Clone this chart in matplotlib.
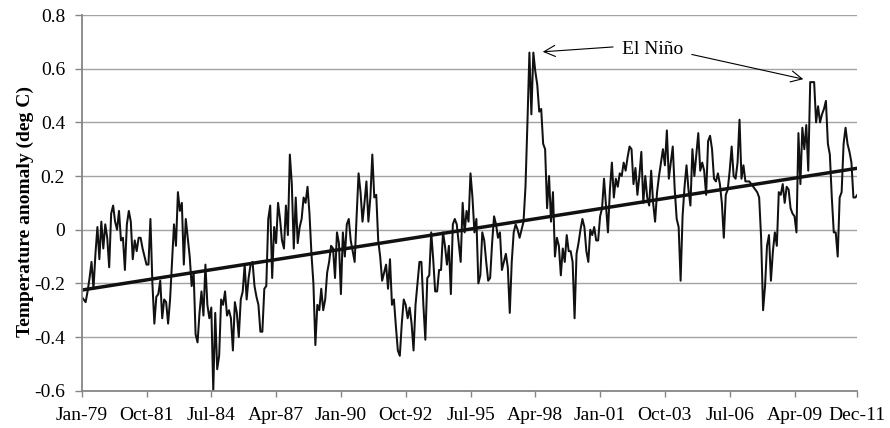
#!/usr/bin/env python
"""plot.py: monthly temperature anomaly 1979-2011 with linear trend"""

import numpy as np
import matplotlib
matplotlib.use("Agg")
import matplotlib.pyplot as plt

# monthly anomalies (deg C), Jan-79 .. Dec-11, one row per year
anom_1979_1986 = [
    -0.25, -0.26, -0.27, -0.23, -0.18, -0.12, -0.22, -0.09, 0.01, -0.11, 0.03, -0.07,
    0.02, -0.03, -0.14, 0.06, 0.09, 0.03, 0.00, 0.07, -0.04, -0.03, -0.15, 0.02,
    0.07, 0.03, -0.11, -0.04, -0.08, -0.03, -0.03, -0.07, -0.10, -0.13, -0.13, 0.04,
    -0.20, -0.35, -0.25, -0.24, -0.19, -0.33, -0.26, -0.27, -0.35, -0.26, -0.12, 0.02,
    -0.06, 0.14, 0.07, 0.10, -0.13, 0.04, -0.03, -0.10, -0.21, -0.16, -0.39, -0.42,
    -0.31, -0.23, -0.32, -0.13, -0.28, -0.33, -0.29, -0.60, -0.31, -0.52, -0.47, -0.26,
    -0.28, -0.23, -0.32, -0.30, -0.33, -0.45, -0.27, -0.31, -0.40, -0.26, -0.23, -0.13,
    -0.26, -0.18, -0.13, -0.12, -0.21, -0.25, -0.28, -0.38, -0.38, -0.22, -0.21, 0.04,
]
anom_1987_1994 = [
    0.09, -0.18, 0.01, -0.05, 0.10, 0.04, -0.04, -0.07, 0.09, -0.02, 0.28, 0.17,
    -0.07, 0.12, -0.05, 0.01, 0.04, 0.12, 0.10, 0.16, 0.06, -0.09, -0.20, -0.43,
    -0.28, -0.30, -0.22, -0.30, -0.26, -0.16, -0.12, -0.06, -0.07, -0.18, -0.01, -0.05,
    -0.24, -0.01, -0.10, 0.02, 0.04, -0.04, -0.08, -0.12, 0.05, 0.21, 0.14, 0.03,
    0.10, 0.18, 0.03, 0.12, 0.28, 0.12, 0.13, -0.04, -0.10, -0.19, -0.16, -0.13,
    -0.22, -0.11, -0.28, -0.26, -0.36, -0.45, -0.47, -0.35, -0.26, -0.28, -0.33, -0.29,
    -0.35, -0.45, -0.28, -0.20, -0.12, -0.12, -0.28, -0.41, -0.18, -0.17, -0.01, -0.11,
    -0.23, -0.23, -0.15, -0.15, -0.01, -0.06, -0.13, -0.06, -0.24, 0.02, 0.04, 0.02,
]
anom_1995_2002 = [
    -0.05, -0.12, 0.10, -0.01, 0.07, 0.03, 0.21, 0.12, -0.01, 0.04, -0.20, -0.17,
    -0.01, -0.04, -0.12, -0.19, -0.18, -0.05, 0.05, 0.02, -0.03, -0.01, -0.15, -0.12,
    -0.09, -0.14, -0.31, -0.12, -0.01, 0.02, 0.00, -0.03, 0.00, 0.03, 0.16, 0.40,
    0.66, 0.43, 0.66, 0.59, 0.54, 0.44, 0.45, 0.32, 0.30, 0.08, 0.20, 0.03,
    0.14, -0.10, -0.03, -0.06, -0.17, -0.07, -0.12, -0.02, -0.08, -0.08, -0.12, -0.33,
    -0.09, -0.05, 0.00, 0.04, 0.01, -0.08, -0.12, 0.00, -0.02, 0.01, -0.04, -0.04,
    0.05, 0.08, 0.19, 0.09, -0.01, 0.15, 0.25, 0.12, 0.19, 0.16, 0.21, 0.20,
    0.25, 0.22, 0.27, 0.31, 0.30, 0.17, 0.23, 0.13, 0.20, 0.29, 0.10, 0.20,
]
anom_2003_2011 = [
    0.12, 0.09, 0.22, 0.10, 0.03, 0.14, 0.20, 0.25, 0.30, 0.24, 0.37, 0.19,
    0.25, 0.31, 0.15, 0.04, 0.01, -0.19, 0.05, 0.16, 0.24, 0.15, 0.09, 0.30,
    0.20, 0.28, 0.36, 0.22, 0.25, 0.22, 0.13, 0.33, 0.35, 0.30, 0.19, 0.18,
    0.21, 0.17, 0.10, -0.03, 0.13, 0.15, 0.22, 0.31, 0.20, 0.19, 0.25, 0.41,
    0.19, 0.24, 0.18, 0.18, 0.18, 0.17, 0.16, 0.15, 0.14, 0.12, -0.03, -0.30,
    -0.21, -0.06, -0.02, -0.19, -0.08, -0.01, -0.06, 0.14, 0.13, 0.17, 0.10, 0.16,
    0.15, 0.08, 0.06, 0.05, -0.01, 0.36, 0.17, 0.38, 0.30, 0.39, 0.22, 0.55,
    0.55, 0.55, 0.40, 0.46, 0.40, 0.43, 0.45, 0.48, 0.32, 0.28, 0.12, -0.01,
    -0.01, -0.10, 0.12, 0.14, 0.32, 0.38, 0.32, 0.29, 0.25, 0.12, 0.12, 0.13,
]

# linear trend line end values
trend_start = -0.225
trend_end = 0.229

tick_labels = ["Jan-79", "Oct-81", "Jul-84", "Apr-87", "Jan-90", "Oct-92", "Jul-95",
               "Apr-98", "Jan-01", "Oct-03", "Jul-06", "Apr-09", "Dec-11"]
y_ticks = [-0.6, -0.4, -0.2, 0, 0.2, 0.4, 0.6, 0.8]
y_tick_labels = ["-0.6", "-0.4", "-0.2", "0", "0.2", "0.4", "0.6", "0.8"]

anomaly = np.array(anom_1979_1986 + anom_1987_1994 + anom_1995_2002 + anom_2003_2011)
months = np.arange(len(anomaly))
last = months[-1]
tick_pos = list(range(0, 363 + 1, 33)) + [last]

plt.rcParams['font.family'] = ['Liberation Serif', 'DejaVu Serif']

fig = plt.figure(figsize=(8.9, 4.28), dpi=100)
ax = fig.add_axes([0.0918, 0.0871, 0.8715, 0.8778])

grid_col = '#a3a3a3'
axis_col = '#868686'

for yv in y_ticks[1:]:
    ax.axhline(yv, color=grid_col, lw=1.0, zorder=1)

ax.plot(months, anomaly, color='#111111', lw=1.45, zorder=3)
ax.plot([0, last], [trend_start, trend_end], color='#111111', lw=2.5, zorder=4,
        solid_capstyle='butt')

ax.set_xlim(0, last)
ax.set_ylim(-0.6, 0.8)
ax.set_xticks(tick_pos)
ax.set_xticklabels(tick_labels)
ax.set_yticks(y_ticks)
ax.set_yticklabels(y_tick_labels)

for s in ['top', 'right']:
    ax.spines[s].set_visible(False)
for s in ['left', 'bottom']:
    ax.spines[s].set_color(axis_col)
    ax.spines[s].set_linewidth(1.3)
    ax.spines[s].set_zorder(5)

ax.tick_params(axis='x', direction='out', length=4, width=1, color=axis_col,
               labelsize=14, pad=8)
ax.tick_params(axis='y', direction='out', length=5, width=1, color=axis_col,
               labelsize=14, pad=7)

ax.set_ylabel("Temperature anomaly (deg C)", fontsize=14, fontweight='bold')
ax.yaxis.set_label_coords(-0.062, 0.476)

# El Nino note with two arrows
ax.text(290.7, 0.672, "El Niño", fontsize=14, ha='center', va='center')
arrow = dict(arrowstyle='->,head_length=0.4,head_width=0.2', lw=0.8, color='black',
             shrinkA=0, shrinkB=0, mutation_scale=20)
ax.annotate('', xy=(234.8, 0.663), xytext=(270.6, 0.681), arrowprops=arrow)
ax.annotate('', xy=(367.5, 0.561), xytext=(310.7, 0.653), arrowprops=arrow)

fig.savefig('out.png', dpi=100)
